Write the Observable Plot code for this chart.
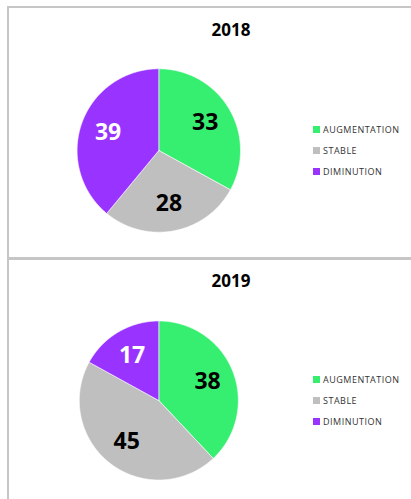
<!DOCTYPE html>
<html>
<head>
<meta charset="utf-8">
<script src="https://cdn.jsdelivr.net/npm/d3@7"></script>
<script src="https://cdn.jsdelivr.net/npm/@observablehq/plot@0.6"></script>
<style>
  html, body { margin: 0; padding: 0; background: #fff; overflow: hidden; }
  #page { position: relative; width: 411px; height: 499px; overflow: hidden; font-family: "Open Sans", sans-serif; }
  .panel { position: absolute; border: 2px solid #c6c6c6; box-sizing: border-box; }
  .plotwrap { position: absolute; left: 0; }
  .plotwrap svg { display: block; }
  .leg { position: absolute; left: 313px; height: 14px; font-size: 9px; letter-spacing: 0.5px; color: #333; line-height: 14px; white-space: nowrap; }
  .leg span.sw { position: absolute; left: 0; top: 3.5px; width: 7px; height: 7px; }
  .leg span.tx { position: absolute; left: 10px; top: 0; }
</style>
</head>
<body>
<div id="page"></div>
<script>
const categories = ["AUGMENTATION", "STABLE", "DIMINUTION"];
const colors = ["#36EE70", "#BFBFBF", "#9933FF"];
const labelColors = ["#000000", "#000000", "#ffffff"];
const years = ["2018", "2019"];
const values2018 = [33, 28, 39];
const values2019 = [38, 45, 17];

const page = document.getElementById("page");

// panel borders
const p1 = document.createElement("div");
p1.className = "panel";
Object.assign(p1.style, {left: "7px", top: "6px", width: "430px", height: "253px"});
page.appendChild(p1);
const p2 = document.createElement("div");
p2.className = "panel";
Object.assign(p2.style, {left: "7px", top: "258px", width: "430px", height: "300px"});
page.appendChild(p2);

function piePlot(year, values, cx, cy, r, height, titleY) {
  const arcs = d3.pie().sort(null).value(d => d)(values);
  const marks = [];
  arcs.forEach((p, i) => {
    const pts = [{x: 0, y: 0}];
    const n = Math.max(2, Math.ceil((p.endAngle - p.startAngle) / (Math.PI / 360)));
    for (let k = 0; k <= n; k++) {
      const a = p.startAngle + (p.endAngle - p.startAngle) * k / n;
      pts.push({x: Math.sin(a), y: Math.cos(a)});
    }
    pts.push({x: 0, y: 0});
    marks.push(Plot.line(pts, {x: "x", y: "y", fill: colors[i], stroke: "#ffffff", strokeWidth: 0.6, curve: "linear"}));
  });
  const labels = arcs.map((p, i) => {
    const m = (p.startAngle + p.endAngle) / 2;
    return {x: 0.66 * Math.sin(m), y: 0.66 * Math.cos(m), text: String(values[i]), color: labelColors[i]};
  });
  marks.push(Plot.text(labels, {x: "x", y: "y", text: "text", fill: d => d.color, fontSize: 23, fontWeight: 700}));
  marks.push(Plot.text([year], {frameAnchor: "top-left", lineAnchor: "middle", dx: 211, dy: titleY, text: d => d, fontSize: 17, fontWeight: 700, fill: "#000"}));
  return Plot.plot({
    width: 411,
    height,
    margin: 0,
    x: {domain: [-1, 1], range: [cx - r, cx + r], axis: null},
    y: {domain: [-1, 1], range: [cy + r, cy - r], axis: null},
    style: {background: "transparent", fontFamily: "'Open Sans', sans-serif", overflow: "visible"},
    marks
  });
}

function addPlot(plot, top) {
  const w = document.createElement("div");
  w.className = "plotwrap";
  w.style.top = top + "px";
  w.appendChild(plot);
  page.appendChild(w);
}

addPlot(piePlot(years[0], values2018, 158.3, 150, 81.7, 256, 30), 0);
addPlot(piePlot(years[1], values2019, 158.3, 141, 79.5, 240, 22), 259);

function addLegend(centerYs) {
  categories.forEach((c, i) => {
    const d = document.createElement("div");
    d.className = "leg";
    d.style.top = (centerYs[i] - 7) + "px";
    const sw = document.createElement("span");
    sw.className = "sw";
    sw.style.background = colors[i];
    const tx = document.createElement("span");
    tx.className = "tx";
    tx.textContent = c;
    d.appendChild(sw);
    d.appendChild(tx);
    page.appendChild(d);
  });
}
addLegend([129.5, 150.5, 171.5]);
addLegend([379.5, 400.5, 421.5]);
</script>
</body>
</html>
